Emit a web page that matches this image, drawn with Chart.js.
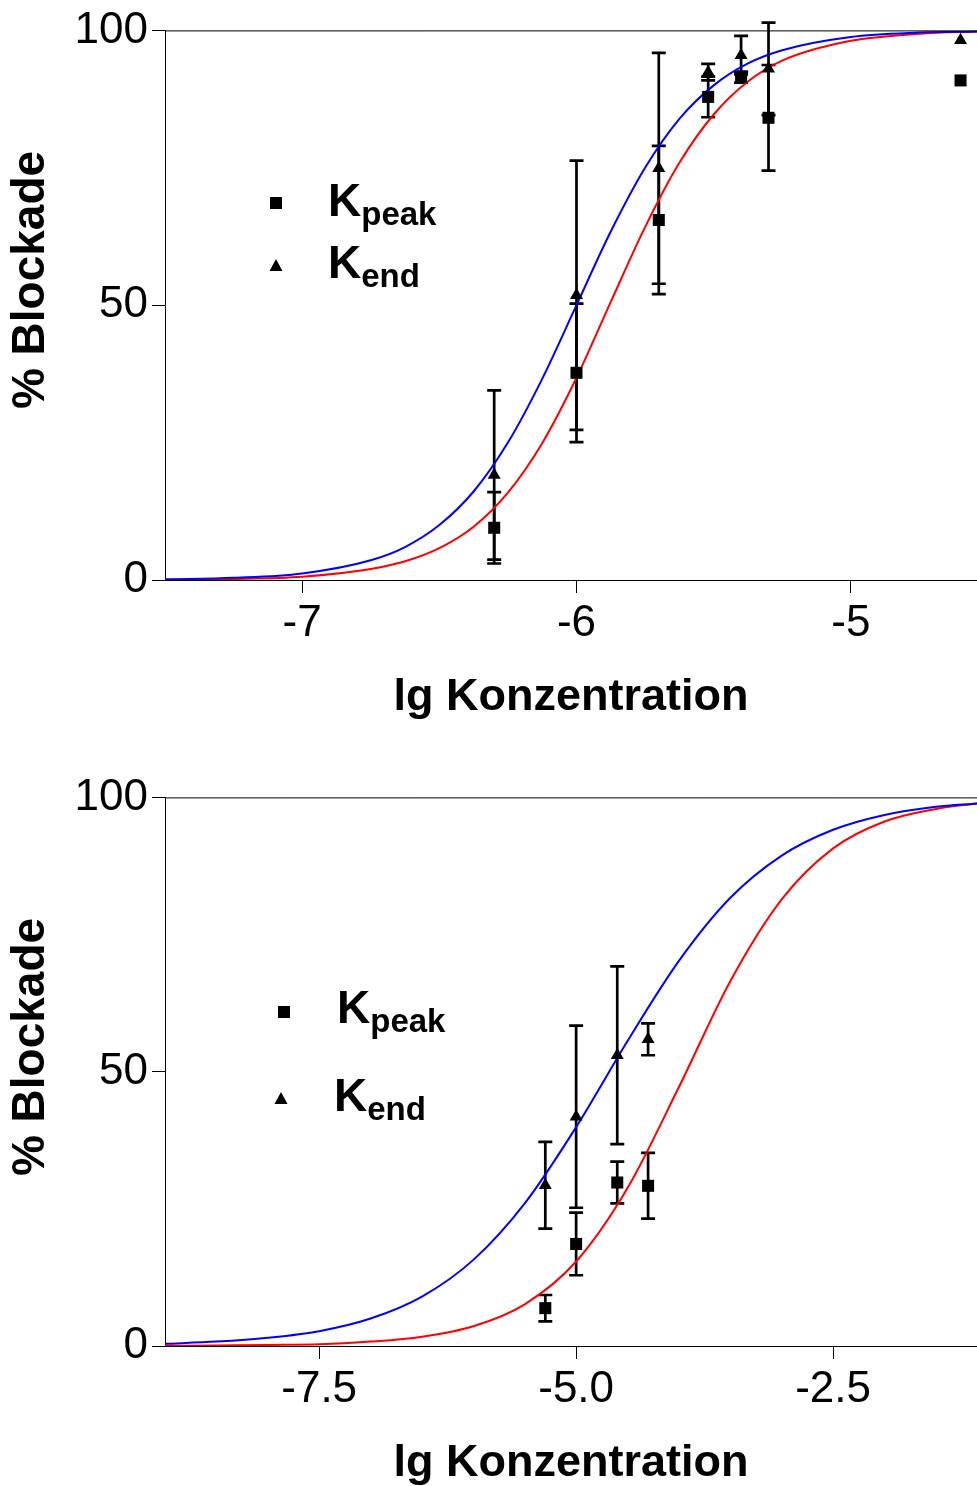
<!DOCTYPE html>
<html>
<head>
<meta charset="utf-8">
<script src="https://cdn.jsdelivr.net/npm/chart.js@4"></script>
<style>
  body { margin: 0; background: #fff; overflow: hidden; }
  .box { position: absolute; left: 0; width: 977px; }
  canvas { display: block; }
</style>
</head>
<body>
<div class="box" style="top:0;height:720px"><canvas id="topChart"></canvas></div>
<div class="box" style="top:767px;height:719px"><canvas id="bottomChart"></canvas></div>
<script>
const FONT = "'Liberation Sans', Arial, sans-serif";

const xTitle = "lg Konzentration";
const yTitle = "% Blockade";
const legendMain = ["K", "K"];
const legendSub = ["peak", "end"];
const yTicks = [0, 50, 100];

// top panel
const topXTicks = [-7, -6, -5];
const topXLabels = ["-7", "-6", "-5"];
const topDoses = [-6.3, -6.0, -5.7, -5.52, -5.4, -5.3, -4.6];
const topPeak = [9.5, 37.7, 65.5, 87.9, 91.5, 84.1, 90.9];
const topPeakErr = [6.5, 12.6, 13.5, 3.7, 1.0, 9.6, 0];
const topEnd = [19.1, 51.8, 74.9, 92.4, 95.5, 93.0, 98.2];
const topEndErr = [15.4, 24.5, 21.0, 1.5, 3.5, 8.4, 0];
const topCurveX = [-7.5, -7.25, -7.0, -6.75, -6.625, -6.5, -6.375, -6.25, -6.125, -6.0, -5.875, -5.75, -5.625, -5.5, -5.375, -5.25, -5.0, -4.75, -4.54];
const topBlue = [0.1, 0.4, 1.2, 3.6, 6.0, 10.0, 16.1, 25.0, 36.6, 50.0, 63.4, 75.0, 83.9, 90.0, 94.0, 96.4, 98.8, 99.6, 99.8];
const topRed = [0.1, 0.2, 0.6, 2.0, 3.4, 5.8, 9.7, 15.9, 24.9, 36.8, 50.6, 64.2, 75.9, 84.7, 90.7, 94.5, 98.1, 99.4, 99.8];

// bottom panel
const botXTicks = [-7.5, -5.0, -2.5];
const botXLabels = ["-7.5", "-5.0", "-2.5"];
const botDoses = [-5.3, -5.0, -4.6, -4.3];
const botPeak = [6.9, 18.6, 29.8, 29.2];
const botPeakErr = [2.4, 5.7, 3.8, 6.0];
const botEnd = [29.3, 41.8, 53.0, 55.9];
const botEndErr = [7.9, 16.6, 16.2, 2.9];
const botCurveX = [-9.0, -8.5, -8.0, -7.5, -7.0, -6.5, -6.0, -5.5, -5.0, -4.5, -4.0, -3.5, -3.0, -2.5, -2.0, -1.5, -1.1];
const botBlue = [0.4, 0.8, 1.5, 2.7, 5.0, 9.0, 15.7, 26.0, 39.9, 55.6, 70.2, 81.7, 89.4, 94.1, 96.8, 98.3, 98.9];
const botRed = [0.0, 0.1, 0.2, 0.3, 0.8, 1.7, 3.6, 7.6, 15.4, 28.8, 47.2, 66.5, 81.4, 90.7, 95.6, 97.9, 98.9];

const pts = (xs, ys) => xs.map((x, i) => ({ x, y: ys[i] }));

// error bars under the markers
const errorBars = {
  id: "errorBars",
  beforeDatasetsDraw(chart) {
    const { ctx, scales: { x, y } } = chart;
    ctx.save();
    ctx.strokeStyle = "#000";
    ctx.lineWidth = 2.7;
    chart.data.datasets.forEach(ds => {
      if (!ds.errors) return;
      ds.data.forEach((p, i) => {
        const e = ds.errors[i];
        if (!e) return;
        const px = x.getPixelForValue(p.x);
        const top = y.getPixelForValue(p.y + e);
        const bot = y.getPixelForValue(p.y - e);
        ctx.beginPath();
        ctx.moveTo(px, top); ctx.lineTo(px, bot);
        ctx.moveTo(px - 7, top); ctx.lineTo(px + 7, top);
        ctx.moveTo(px - 7, bot); ctx.lineTo(px + 7, bot);
        ctx.stroke();
      });
    });
    ctx.restore();
  }
};

// top frame line, rotated y title, K legend with subscripts
const deco = {
  id: "deco",
  afterDraw(chart, args, o) {
    const { ctx, chartArea: a } = chart;
    ctx.save();
    ctx.strokeStyle = "#000";
    ctx.lineWidth = 1;
    ctx.beginPath();
    ctx.moveTo(a.left, a.top + 0.5);
    ctx.lineTo(a.right, a.top + 0.5);
    ctx.stroke();

    ctx.fillStyle = "#000";
    ctx.save();
    ctx.font = "bold 46px " + FONT;
    ctx.textAlign = "center";
    ctx.textBaseline = "middle";
    ctx.translate(o.titleX, o.titleY);
    ctx.rotate(-Math.PI / 2);
    ctx.fillText(yTitle, 0, 0);
    ctx.restore();

    o.legend.forEach((it, i) => {
      // marker
      ctx.beginPath();
      if (i === 0) {
        ctx.rect(it.mx - 6, it.my - 6, 12, 12);
      } else {
        ctx.moveTo(it.mx, it.my - 7);
        ctx.lineTo(it.mx + 6.5, it.my + 5);
        ctx.lineTo(it.mx - 6.5, it.my + 5);
        ctx.closePath();
      }
      ctx.fill();
      // text
      ctx.textAlign = "left";
      ctx.textBaseline = "alphabetic";
      ctx.font = "bold 46px " + FONT;
      ctx.fillText(legendMain[i], it.tx, it.ty);
      const w = ctx.measureText(legendMain[i]).width;
      ctx.font = "bold 33px " + FONT;
      ctx.fillText(legendSub[i], it.tx + w, it.ty + 9);
    });
    ctx.restore();
  }
};

function makeChart(id, cfg) {
  return new Chart(document.getElementById(id), {
    type: "scatter",
    data: {
      datasets: [
        { label: "Kpeak", data: pts(cfg.doses, cfg.peak), errors: cfg.peakErr, pointStyle: "rect",
          pointRadius: 8.5, backgroundColor: "#000", borderWidth: 0, clip: false },
        { label: "Kend", data: pts(cfg.doses, cfg.end), errors: cfg.endErr, pointStyle: "triangle",
          pointRadius: 7.5, backgroundColor: "#000", borderWidth: 0, clip: false },
        { label: "fit end", data: pts(cfg.curveX, cfg.blue), showLine: true, pointRadius: 0,
          borderColor: "#0000ff", borderWidth: 2, cubicInterpolationMode: "monotone" },
        { label: "fit peak", data: pts(cfg.curveX, cfg.red), showLine: true, pointRadius: 0,
          borderColor: "#ff0000", borderWidth: 2, cubicInterpolationMode: "monotone" }
      ]
    },
    options: {
      responsive: true,
      maintainAspectRatio: false,
      animation: false,
      layout: { autoPadding: false, padding: { top: 30, right: 0, left: 0, bottom: 0 } },
      plugins: {
        legend: { display: false },
        tooltip: { enabled: false },
        deco: cfg.deco
      },
      scales: {
        x: {
          type: "linear",
          min: cfg.xMin,
          max: cfg.xMax,
          afterBuildTicks: s => { s.ticks = cfg.xTicks.map(v => ({ value: v })); },
          afterFit: s => { s.height = 140; },
          ticks: {
            color: "#000", font: { family: FONT, size: 44 }, padding: 4, maxRotation: 0, autoSkip: false,
            callback: (v, i) => cfg.xLabels[i]
          },
          grid: { drawOnChartArea: false, drawTicks: true, tickLength: 13, color: "#000" },
          border: { color: "#000", width: 1 },
          title: {
            display: true, text: xTitle, color: "#000", padding: 0,
            font: { family: FONT, size: 45, weight: "bold", lineHeight: 1 }
          }
        },
        y: {
          min: 0,
          max: 100,
          afterBuildTicks: s => { s.ticks = yTicks.map(v => ({ value: v })); },
          afterFit: s => { s.width = 165; },
          ticks: { color: "#000", font: { family: FONT, size: 44 }, padding: 4 },
          grid: { drawOnChartArea: false, drawTicks: true, tickLength: 13, color: "#000" },
          border: { color: "#000", width: 1 }
        }
      }
    },
    plugins: [errorBars, deco]
  });
}

makeChart("topChart", {
  xMin: -7.5, xMax: -4.54, xTicks: topXTicks, xLabels: topXLabels,
  doses: topDoses, peak: topPeak, peakErr: topPeakErr, end: topEnd, endErr: topEndErr,
  curveX: topCurveX, blue: topBlue, red: topRed,
  deco: {
    titleX: 31, titleY: 280,
    legend: [
      { mx: 276, my: 203, tx: 328, ty: 216 },
      { mx: 276, my: 266, tx: 328, ty: 278 }
    ]
  }
});

makeChart("bottomChart", {
  xMin: -9.0, xMax: -1.1, xTicks: botXTicks, xLabels: botXLabels,
  doses: botDoses, peak: botPeak, peakErr: botPeakErr, end: botEnd, endErr: botEndErr,
  curveX: botCurveX, blue: botBlue, red: botRed,
  deco: {
    titleX: 31, titleY: 280,
    legend: [
      { mx: 284, my: 245, tx: 337, ty: 256 },
      { mx: 281, my: 332, tx: 334, ty: 344 }
    ]
  }
});
</script>
</body>
</html>
